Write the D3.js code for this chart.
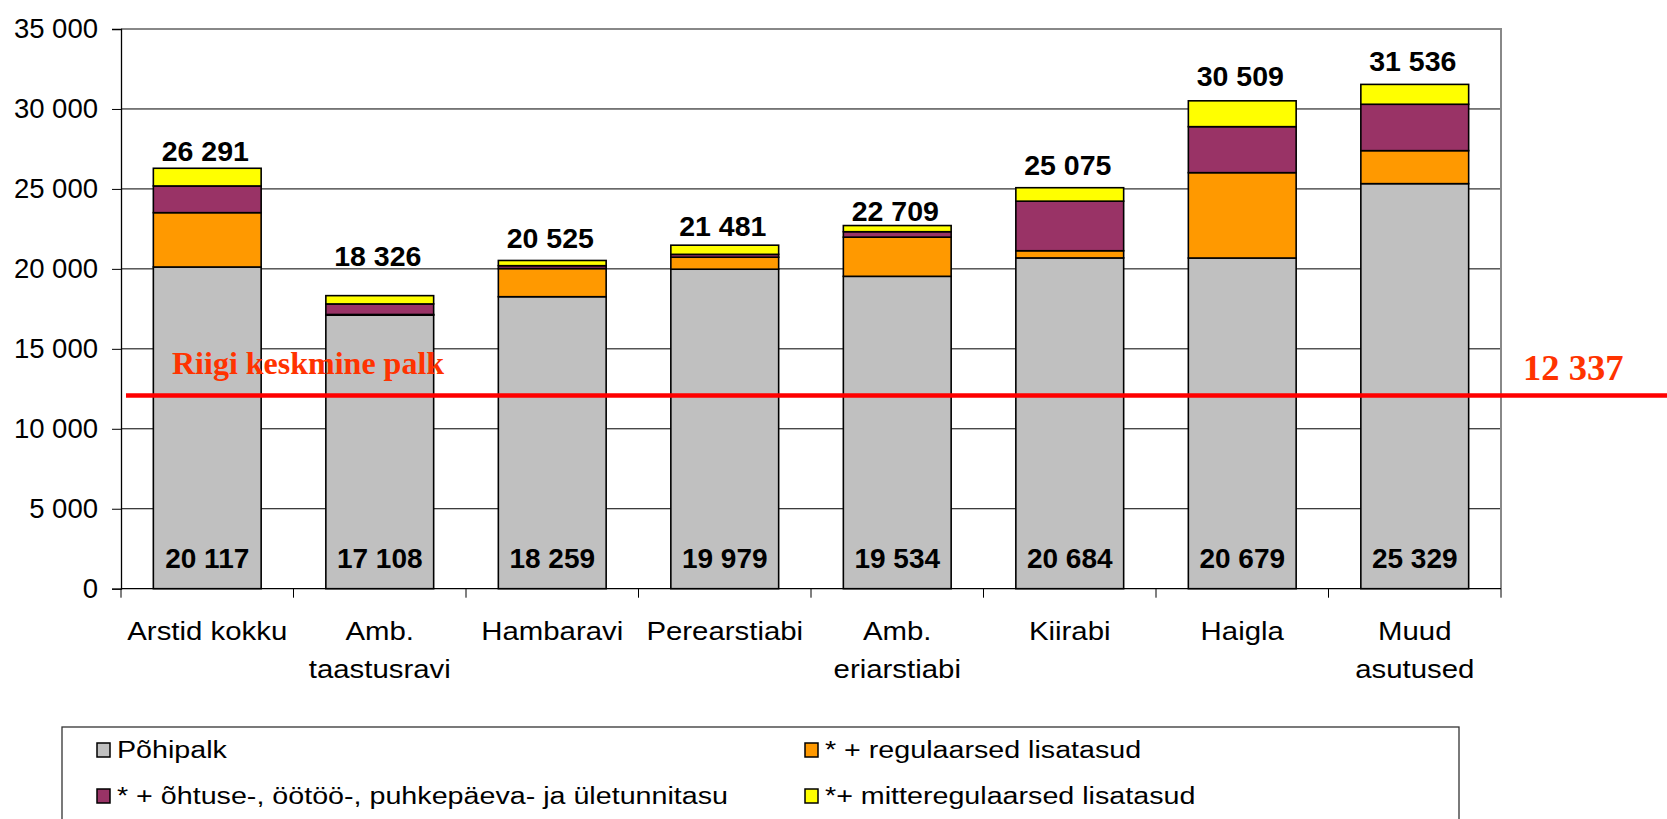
<!DOCTYPE html>
<html>
<head>
<meta charset="utf-8">
<script src="https://cdn.jsdelivr.net/npm/d3@7"></script>
<style>
  body { margin: 0; background: #fff; }
  svg { display: block; }
</style>
</head>
<body>
<svg id="chart" width="1667" height="819"></svg>
<script>
// data
const categories = ['Arstid kokku', 'Amb.\ntaastusravi', 'Hambaravi', 'Perearstiabi',
  'Amb.\neriarstiabi', 'Kiirabi', 'Haigla', 'Muud\nasutused'];
const pohipalk   = [20117, 17108, 18259, 19979, 19534, 20684, 20679, 25329];
const regulaarne = [3398, 40, 1760, 750, 2450, 450, 5337, 2064];
const ohtuOo     = [1670, 660, 180, 180, 340, 3100, 2877, 2901];
const mitteReg   = [1106, 518, 326, 572, 385, 841, 1616, 1242];
const totals     = [26291, 18326, 20525, 21481, 22709, 25075, 30509, 31536];
const riigiKeskmine = 12337;
const yTicks = [0, 5000, 10000, 15000, 20000, 25000, 30000, 35000];

const seriesNames = ['Põhipalk', '* + regulaarsed lisatasud',
  '* + õhtuse-, öötöö-, puhkepäeva- ja ületunnitasu', '*+ mitteregulaarsed lisatasud'];
const seriesColors = ['#C0C0C0', '#FF9900', '#993366', '#FFFF00'];

// total label gap above bar (labels were hand placed in the original)
const labelGap = [7, 30, 12, 9, 5, 13, 15, 13];

const svg = d3.select('#chart');
const plotL = 121, plotR = 1501, plotT = 29, plotB = 588.7;
const sans = 'Liberation Sans, Arial, sans-serif';
const serif = 'Liberation Serif, Times New Roman, serif';

const rows = categories.map((c, i) => ({
  cat: c, s0: pohipalk[i], s1: regulaarne[i], s2: ohtuOo[i], s3: mitteReg[i]
}));
const stacked = d3.stack().keys(['s0', 's1', 's2', 's3'])(rows);

const x = d3.scaleBand().domain(categories).range([plotL, plotR])
  .paddingInner(0.375).paddingOuter(0.1875);
const y = d3.scaleLinear().domain([0, 35000]).range([plotB, plotT]);
const fmt = v => d3.format(',')(v).replace(/,/g, ' ');
const mid = c => x(c) + x.bandwidth() / 2;

// gridlines
svg.append('g').selectAll('line')
  .data(yTicks.filter(t => t > 0 && t < 35000))
  .join('line')
  .attr('x1', plotL).attr('x2', plotR)
  .attr('y1', d => y(d)).attr('y2', d => y(d))
  .attr('stroke', '#000').attr('stroke-width', 1);

// plot border top / right
svg.append('path')
  .attr('d', `M${plotL},${y(35000)}H${plotR}V${plotB}`)
  .attr('fill', 'none').attr('stroke', '#888').attr('stroke-width', 2);

// bars
svg.append('g').selectAll('g')
  .data(stacked)
  .join('g')
  .attr('fill', (d, i) => seriesColors[i])
  .selectAll('rect')
  .data(d => d)
  .join('rect')
  .attr('x', d => x(d.data.cat))
  .attr('width', x.bandwidth())
  .attr('y', d => y(d[1]))
  .attr('height', d => y(d[0]) - y(d[1]))
  .attr('stroke', '#000').attr('stroke-width', 1.6);

// y axis
const yAxis = svg.append('g')
  .attr('transform', `translate(${plotL},0)`)
  .call(d3.axisLeft(y).tickValues(yTicks).tickFormat(fmt).tickSize(9).tickPadding(14));
yAxis.select('.domain').attr('stroke', '#000').attr('stroke-width', 1.3);
yAxis.selectAll('.tick line').attr('stroke', '#000');
yAxis.selectAll('text').attr('font-family', sans)
  .attr('font-size', 27.5).attr('fill', '#000');

// x axis (ticks between categories)
const bounds = categories.map(c => x(c) - x.step() * x.paddingInner() / 2).concat([plotR]);
bounds[0] = plotL;
svg.append('line').attr('x1', plotL).attr('x2', plotR).attr('y1', plotB).attr('y2', plotB)
  .attr('stroke', '#000').attr('stroke-width', 1.3);
svg.append('g').selectAll('line')
  .data(bounds).join('line')
  .attr('x1', d => d).attr('x2', d => d)
  .attr('y1', plotB).attr('y2', plotB + 9)
  .attr('stroke', '#000');

// category labels, slightly wide like the original
const catText = svg.append('g').selectAll('text')
  .data(categories).join('text')
  .attr('transform', d => `translate(${mid(d)},640) scale(1.13,1)`)
  .attr('text-anchor', 'middle')
  .attr('font-family', sans)
  .attr('font-size', 26);
catText.selectAll('tspan')
  .data(d => d.split('\n')).join('tspan')
  .attr('x', 0)
  .attr('dy', (d, i) => i === 0 ? 0 : 38)
  .text(d => d);

// base value labels
svg.append('g').selectAll('text')
  .data(categories).join('text')
  .attr('x', d => mid(d))
  .attr('y', plotB - 21)
  .attr('text-anchor', 'middle')
  .attr('font-family', sans)
  .attr('font-weight', 'bold').attr('font-size', 28)
  .text((d, i) => fmt(pohipalk[i]));

// total labels
svg.append('g').selectAll('text')
  .data(categories).join('text')
  .attr('x', d => mid(d) - 2)
  .attr('y', (d, i) => y(totals[i]) - labelGap[i])
  .attr('text-anchor', 'middle')
  .attr('font-family', sans)
  .attr('font-weight', 'bold').attr('font-size', 28.5)
  .text((d, i) => fmt(totals[i]));

// national average line
svg.append('line')
  .attr('x1', 126).attr('x2', 1667)
  .attr('y1', y(riigiKeskmine) + 4).attr('y2', y(riigiKeskmine) + 4)
  .attr('stroke', '#FF0000').attr('stroke-width', 4.5);
svg.append('text')
  .attr('x', 172).attr('y', 374)
  .attr('font-family', serif)
  .attr('font-weight', 'bold').attr('font-size', 32).attr('fill', '#FF3300')
  .text('Riigi keskmine palk');
svg.append('text')
  .attr('x', 1523).attr('y', 380)
  .attr('font-family', serif)
  .attr('font-weight', 'bold').attr('font-size', 36.5).attr('fill', '#FF3300')
  .text(fmt(riigiKeskmine));

// legend
const lg = svg.append('g');
lg.append('rect').attr('x', 62).attr('y', 727).attr('width', 1397).attr('height', 120)
  .attr('fill', '#fff').attr('stroke', '#333').attr('stroke-width', 1.3);
const legPos = [[97, 758], [805, 758], [97, 804], [805, 804]];
const items = lg.selectAll('g.item').data(seriesNames).join('g')
  .attr('class', 'item')
  .attr('transform', (d, i) => `translate(${legPos[i][0]},${legPos[i][1]})`);
items.append('rect').attr('x', 0).attr('y', -15).attr('width', 13).attr('height', 14)
  .attr('fill', (d, i) => seriesColors[i]).attr('stroke', '#000').attr('stroke-width', 1.5);
items.append('text')
  .attr('transform', 'translate(20,0) scale(1.17,1)')
  .attr('font-family', sans).attr('font-size', 24.5)
  .text(d => d);
</script>
</body>
</html>
